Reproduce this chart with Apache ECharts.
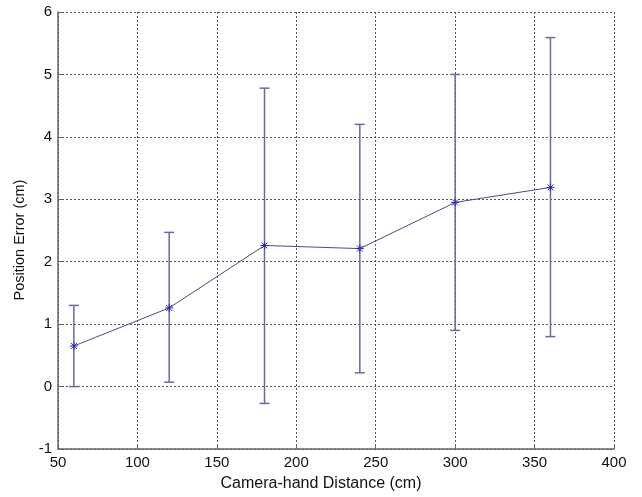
<!DOCTYPE html>
<html><head><meta charset="utf-8">
<script src="https://cdn.jsdelivr.net/npm/echarts@6/dist/echarts.min.js"></script>
<style>html,body{margin:0;padding:0;background:#fff}#c{width:642px;height:497px}</style>
</head><body><div id="c"></div>
<script>
const distances = [60, 120, 180, 240, 300, 360];
const meanError = [0.65, 1.26, 2.26, 2.21, 2.95, 3.19];
const lowerError = [0.0, 0.07, -0.27, 0.22, 0.90, 0.80];
const upperError = [1.30, 2.47, 4.78, 4.20, 5.00, 5.59];
const xTicks = [50, 100, 150, 200, 250, 300, 350, 400];
const yTicks = [-1, 0, 1, 2, 3, 4, 5, 6];
const xTitle = 'Camera-hand Distance (cm)';
const yTitle = 'Position Error (cm)';

const chart = echarts.init(document.getElementById('c'), null, {renderer: 'canvas'});
const lineData = distances.map((d, i) => [d, meanError[i]]);
const errData = distances.map((d, i) => [d, lowerError[i], upperError[i], meanError[i]]);
const FF = 'Liberation Sans, Arial, sans-serif';
const tickFont = {color: '#111', fontSize: 15, fontFamily: FF};
const gridLine = {show: true, lineStyle: {color: '#555', type: [2, 2], width: 1}};

chart.setOption({
  animation: false,
  grid: {left: 58, right: 28, top: 12, bottom: 48},
  graphic: [
    {type: 'text', left: 'center', top: 476, style: {text: xTitle, fill: '#111', font: '16px ' + FF}},
    {type: 'text', x: 12, y: 240, rotation: Math.PI / 2, style: {text: yTitle, fill: '#111', font: '14.5px ' + FF, align: 'center', verticalAlign: 'top'}}
  ],
  xAxis: {
    type: 'value', min: xTicks[0], max: xTicks[xTicks.length - 1], interval: 50,
    axisLine: {show: true, onZero: false, lineStyle: {color: '#666', width: 1.5}},
    axisTick: {show: true, inside: true, length: 4, lineStyle: {color: '#666'}},
    axisLabel: Object.assign({margin: 6}, tickFont),
    splitLine: gridLine
  },
  yAxis: {
    type: 'value', min: yTicks[0], max: yTicks[yTicks.length - 1], interval: 1,
    axisLine: {show: true, onZero: false, lineStyle: {color: '#666', width: 1.5}},
    axisTick: {show: true, inside: true, length: 4, lineStyle: {color: '#666'}},
    axisLabel: Object.assign({margin: 6}, tickFont),
    splitLine: gridLine
  },
  series: [
    {
      type: 'line', data: lineData, symbol: 'none',
      lineStyle: {color: '#4a4a86', width: 1}, z: 3
    },
    {
      type: 'custom', data: errData, z: 4,
      renderItem: function (params, api) {
        const x = api.value(0);
        const lo = api.coord([x, api.value(1)]);
        const hi = api.coord([x, api.value(2)]);
        const m = api.coord([x, api.value(3)]);
        const cap = 5, s = 4;
        const errStyle = {stroke: '#6a6a9c', lineWidth: 1.5};
        const starStyle = {stroke: '#2a2ab0', lineWidth: 1};
        return {
          type: 'group',
          children: [
            {type: 'line', shape: {x1: lo[0], y1: lo[1], x2: hi[0], y2: hi[1]}, style: errStyle},
            {type: 'line', shape: {x1: lo[0] - cap, y1: lo[1], x2: lo[0] + cap, y2: lo[1]}, style: errStyle},
            {type: 'line', shape: {x1: hi[0] - cap, y1: hi[1], x2: hi[0] + cap, y2: hi[1]}, style: errStyle},
            {type: 'line', shape: {x1: m[0] - s, y1: m[1], x2: m[0] + s, y2: m[1]}, style: starStyle},
            {type: 'line', shape: {x1: m[0], y1: m[1] - s, x2: m[0], y2: m[1] + s}, style: starStyle},
            {type: 'line', shape: {x1: m[0] - 3, y1: m[1] - 3, x2: m[0] + 3, y2: m[1] + 3}, style: starStyle},
            {type: 'line', shape: {x1: m[0] - 3, y1: m[1] + 3, x2: m[0] + 3, y2: m[1] - 3}, style: starStyle}
          ]
        };
      }
    }
  ]
});
</script>
</body></html>
